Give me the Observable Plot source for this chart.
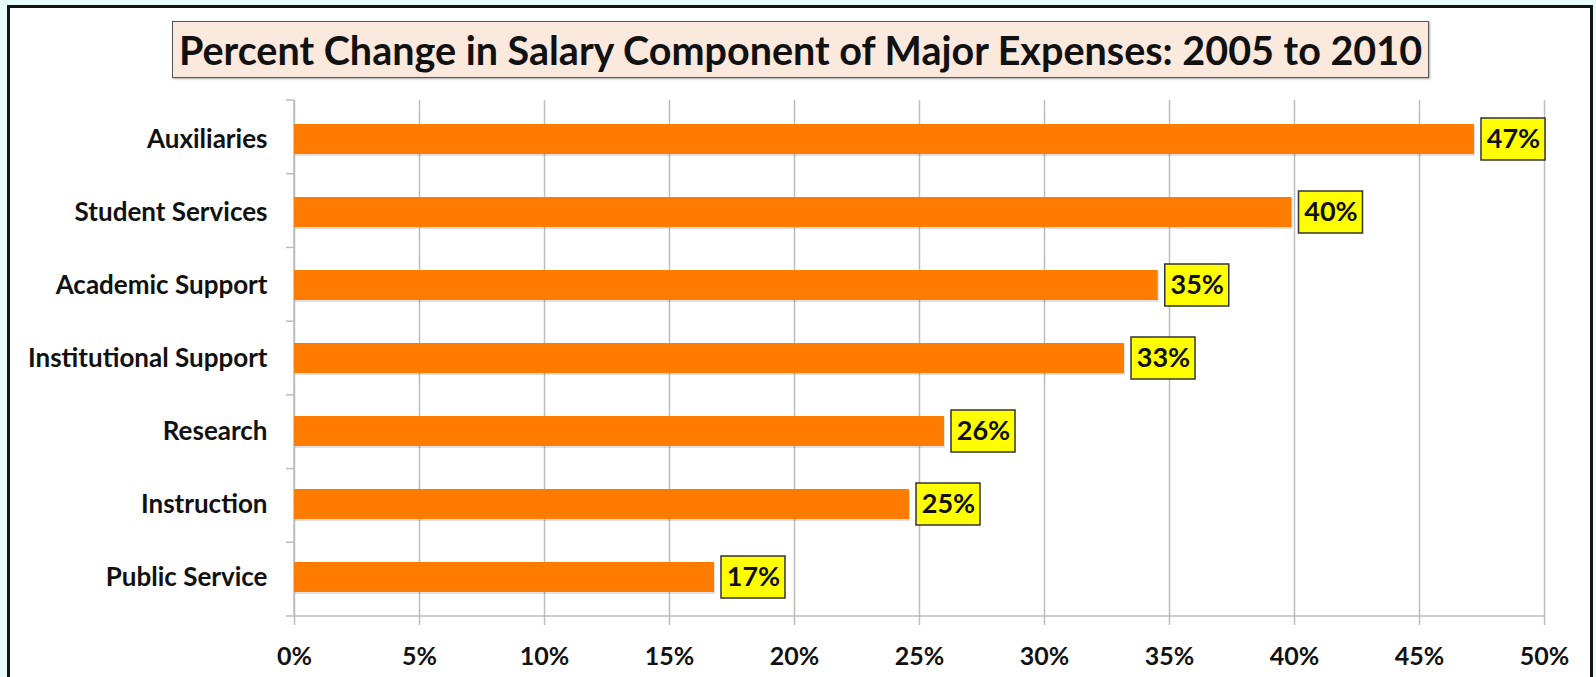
<!DOCTYPE html>
<html>
<head>
<meta charset="utf-8">
<script src="https://cdn.jsdelivr.net/npm/d3@7"></script>
<script src="https://cdn.jsdelivr.net/npm/@observablehq/plot@0.6"></script>
<style>
  html, body { margin: 0; padding: 0; width: 1596px; height: 677px; overflow: hidden; background: #e6fdf9; font-family: Lato, "Open Sans", sans-serif; }
  #frame { position: absolute; left: 7px; top: 5px; width: 1580px; height: 720px; border: 3px solid #151515; background: #ffffff; box-sizing: content-box; }
  #title { position: absolute; left: 172px; top: 21px; width: 1255px; height: 55px; background: #fbe9dd; border: 1.5px solid #555; box-shadow: 1px 1px 2px rgba(0,0,0,0.35);
           font-family: Lato, sans-serif; font-weight: 700; font-size: 39.5px; color: #111; text-align: center; line-height: 55px; white-space: nowrap; }
  #chart { position: absolute; left: 0; top: 0; }
</style>
</head>
<body>
<div id="frame"></div>
<div id="chart"></div>
<div id="title">Percent Change in Salary Component of Major Expenses: 2005 to 2010</div>
<script>
const categories = ["Auxiliaries", "Student Services", "Academic Support", "Institutional Support", "Research", "Instruction", "Public Service"];
const values = [47.2, 39.9, 34.55, 33.2, 26.0, 24.6, 16.8];
const valueLabels = ["47%", "40%", "35%", "33%", "26%", "25%", "17%"];
const xTicks = [0, 5, 10, 15, 20, 25, 30, 35, 40, 45, 50];

const data = categories.map((c, i) => ({category: c, value: values[i], label: valueLabels[i]}));

const gray = "#bdbdbd";

function axisLines(index, scales, vals, dims) {
  const x = scales.x;
  const top = dims.marginTop, bottom = dims.height - dims.marginBottom;
  const n = categories.length;
  const g = d3.create("svg:g").attr("stroke", gray).attr("stroke-width", 1.5).attr("fill", "none");
  const x0 = x(xTicks[0]), x1 = x(xTicks[xTicks.length - 1]);
  g.append("line").attr("x1", x0).attr("x2", x0).attr("y1", top).attr("y2", bottom);
  g.append("line").attr("x1", x0).attr("x2", x1).attr("y1", bottom).attr("y2", bottom);
  for (let i = 0; i <= n; i++) {
    const yy = top + i * (bottom - top) / n;
    g.append("line").attr("x1", x0 - 8).attr("x2", x0).attr("y1", yy).attr("y2", yy);
  }
  return g.node();
}

const plot = Plot.plot({
  width: 1596,
  height: 677,
  marginLeft: 294,
  marginRight: 52,
  marginTop: 100,
  marginBottom: 61,
  style: {background: "transparent", fontFamily: "Lato, sans-serif", color: "#111", overflow: "visible"},
  x: {domain: [0, 50]},
  y: {domain: categories, paddingInner: 0.43, paddingOuter: 0.215},
  marks: [
    Plot.ruleX(xTicks, {stroke: gray, strokeWidth: 1.5}),
    axisLines,
    Plot.axisX({ticks: xTicks, tickFormat: d => d + "%", tickSize: 9, tickPadding: 22, stroke: gray, strokeWidth: 1.5,
                fontSize: 25, fontWeight: "bold", fill: "#111", label: null}),
    Plot.axisY({tickSize: 0, tickPadding: 27, fontSize: 26, fontWeight: "bold", fill: "#111", label: null}),
    Plot.barX(data, {x: "value", y: "category", fill: "#000", fillOpacity: 0.12, insetTop: 6, insetBottom: 6, dy: 2, dx: 1}),
    Plot.barX(data, {x: "value", y: "category", fill: "#ff7c00", insetTop: 6, insetBottom: 6}),
    Plot.barX(data, {x1: "value", x2: "value", y: "category", insetLeft: 7, insetRight: -71, fill: "#ffff00", stroke: "#333", strokeWidth: 1.5}),
    Plot.text(data, {x: "value", y: "category", text: "label", dx: 39, textAnchor: "middle", fontSize: 27, fontWeight: "bold", fill: "#111"})
  ]
});
document.getElementById("chart").appendChild(plot);
</script>
</body>
</html>
